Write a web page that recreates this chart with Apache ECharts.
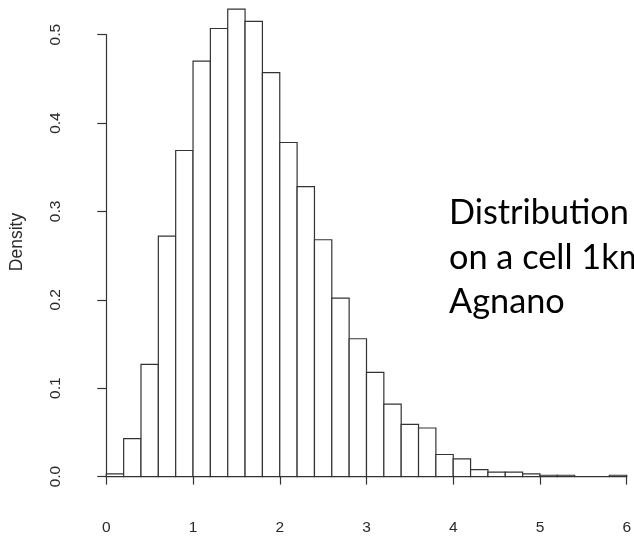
<!DOCTYPE html>
<html>
<head>
<meta charset="utf-8">
<script src="https://cdn.jsdelivr.net/npm/echarts@6/dist/echarts.min.js"></script>
<style>html,body{margin:0;padding:0;background:#fff;}#c{width:634px;height:536px;}</style>
</head>
<body>
<div id="c"></div>
<script>
// bin start values (width 0.2)
const binStarts = [0.0,0.2,0.4,0.6,0.8,1.0,1.2,1.4,1.6,1.8,2.0,2.2,2.4,2.6,2.8,3.0,3.2,3.4,3.6,3.8,4.0,4.2,4.4,4.6,4.8,5.0,5.2,5.4,5.6,5.8];
const binEnds   = [0.2,0.4,0.6,0.8,1.0,1.2,1.4,1.6,1.8,2.0,2.2,2.4,2.6,2.8,3.0,3.2,3.4,3.6,3.8,4.0,4.2,4.4,4.6,4.8,5.0,5.2,5.4,5.6,5.8,6.0];
// density values
const densities = [0.003,0.043,0.127,0.272,0.369,0.470,0.507,0.529,0.515,0.457,0.378,0.328,0.268,0.202,0.156,0.118,0.082,0.059,0.055,0.025,0.020,0.008,0.005,0.005,0.003,0.0015,0.0015,0,0,0.0015];
const xTicks = [0,1,2,3,4,5,6];
const yTicks = [0.0,0.1,0.2,0.3,0.4,0.5];
const yLabel = 'Density';
const noteLines = ['Distribution', 'on a cell 1km', 'Agnano'];

const data = binStarts.map((s, i) => [s, binEnds[i], densities[i]]);
const chart = echarts.init(document.getElementById('c'), null, {renderer: 'canvas'});
const lineColor = '#333';
const txt = '#2a2a2a';
chart.setOption({
  animation: false,
  backgroundColor: '#fff',
  grid: {left: 106.3, right: 2, top: 34.7, bottom: 56.7},
  xAxis: {
    type: 'value', min: xTicks[0], max: xTicks[xTicks.length-1], interval: 1,
    offset: 19.4,
    axisLine: {show: true, lineStyle: {color: lineColor, width: 1.2}},
    axisTick: {show: true, inside: false, length: 8, lineStyle: {color: lineColor, width: 1.2}},
    axisLabel: {color: txt, fontSize: 15.5, fontFamily: 'Liberation Sans', margin: 24, showMaxLabel: true, showMinLabel: true},
    splitLine: {show: false}
  },
  yAxis: {
    type: 'value', min: yTicks[0], max: yTicks[yTicks.length-1], interval: 0.1,
    offset: 21.3,
    axisLine: {show: true, lineStyle: {color: lineColor, width: 1.2}},
    axisTick: {show: true, inside: false, length: 9, lineStyle: {color: lineColor, width: 1.2}},
    axisLabel: {color: txt, fontSize: 15.5, fontFamily: 'Liberation Sans', margin: 21, rotate: 90,
      formatter: v => v.toFixed(1)},
    splitLine: {show: false}
  },
  series: [{
    type: 'custom',
    clip: false,
    data: data,
    renderItem: function (params, api) {
      const p0 = api.coord([api.value(0), api.value(2)]);
      const p1 = api.coord([api.value(1), 0]);
      return {
        type: 'rect',
        shape: {x: p0[0], y: p0[1], width: p1[0] - p0[0], height: p1[1] - p0[1]},
        style: {fill: '#fff', stroke: lineColor, lineWidth: 1.2}
      };
    },
    encode: {x: [0, 1], y: 2}
  }],
  graphic: [
    {type: 'text', x: 17, y: 242, rotation: Math.PI/2,
      style: {text: yLabel, fill: txt, font: '17.5px "Liberation Sans"', textAlign: 'center', textVerticalAlign: 'middle'}},
    {type: 'text', x: 449, y: 213, style: {text: noteLines[0], fill: '#000', font: '34.3px Lato', textAlign: 'left', textVerticalAlign: 'middle'}},
    {type: 'text', x: 449, y: 258, style: {text: noteLines[1], fill: '#000', font: '34.3px Lato', textAlign: 'left', textVerticalAlign: 'middle'}},
    {type: 'text', x: 449, y: 302, style: {text: noteLines[2], fill: '#000', font: '34.3px Lato', textAlign: 'left', textVerticalAlign: 'middle'}}
  ]
});
</script>
</body>
</html>
